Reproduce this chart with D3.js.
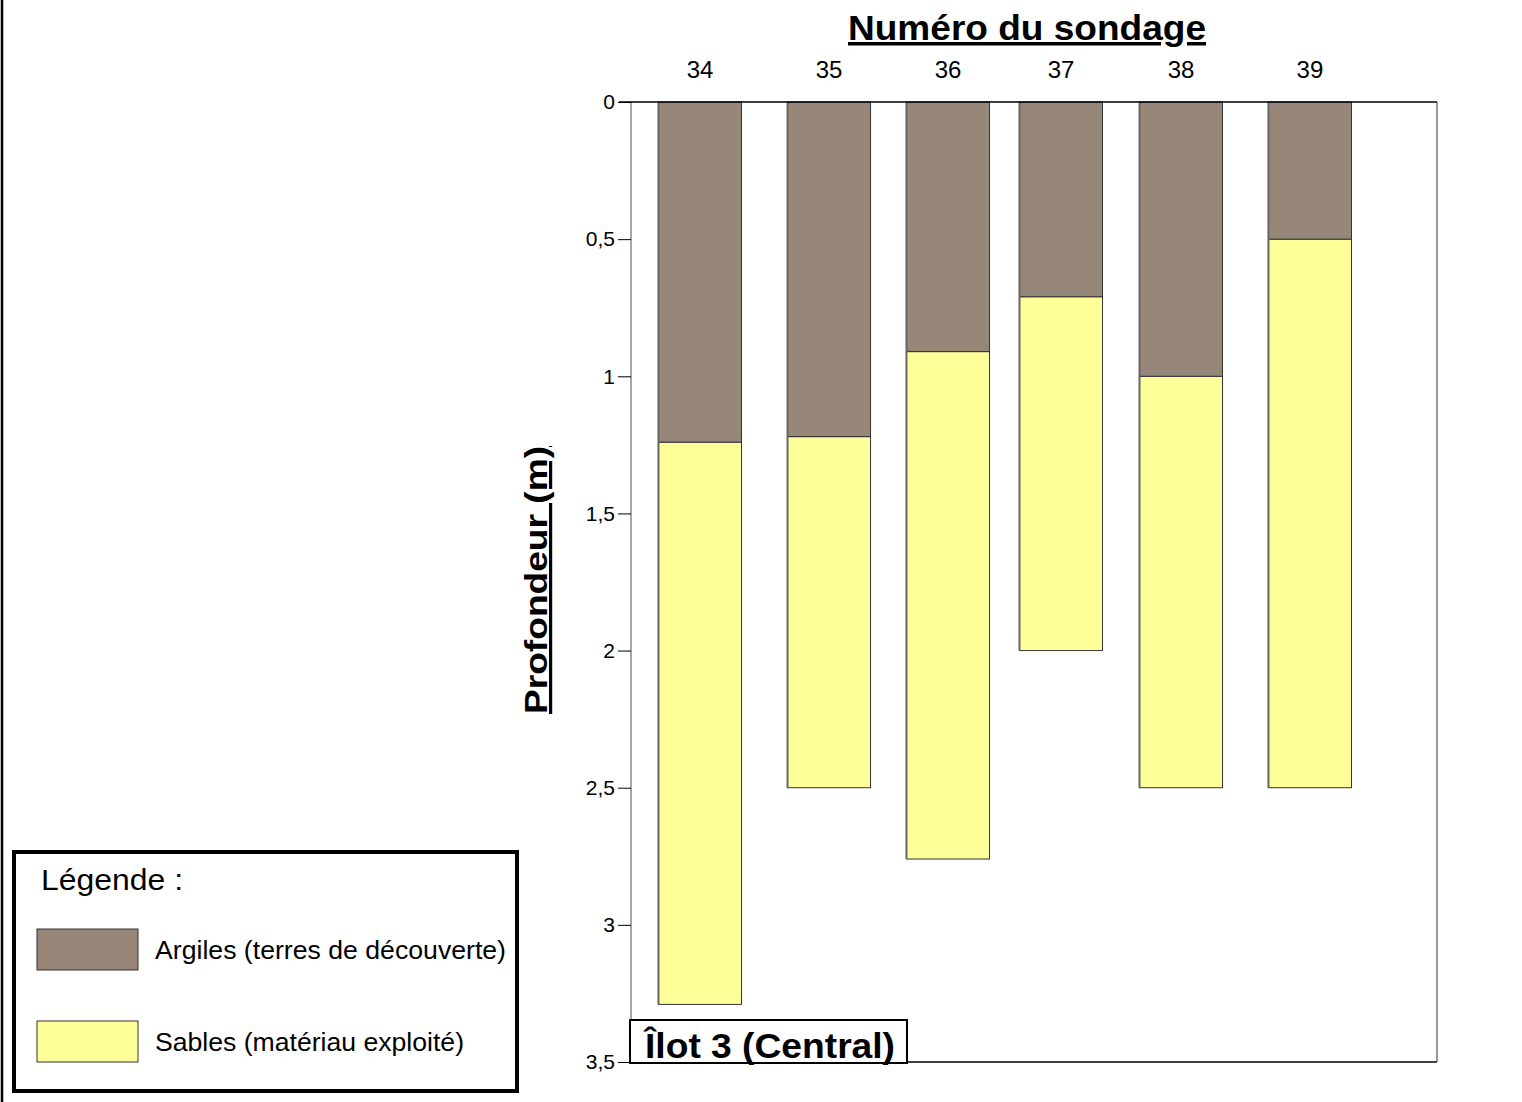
<!DOCTYPE html>
<html><head><meta charset="utf-8">
<script src="https://cdn.jsdelivr.net/npm/d3@7"></script>
<style>body{margin:0;background:#fff;}svg{display:block;font-family:"Liberation Sans",Arial,sans-serif;}</style>
</head><body>
<svg id="c" width="1522" height="1102"></svg>
<script>
const sondages = ["34","35","36","37","38","39"];
const positions = [8.56, 24.57, 39.33, 53.35, 68.24, 84.24]; // position along transect (arbitrary units, 0-100)
const argileBase = [1.24, 1.22, 0.91, 0.71, 1.0, 0.5];   // depth of clay bottom (m)
const sableBase = [3.29, 2.5, 2.76, 2.0, 2.5, 2.5];      // depth of sand bottom (m)
const yTicks = [0, 0.5, 1, 1.5, 2, 2.5, 3, 3.5];
const seriesNames = ["Argiles (terres de découverte)", "Sables (matériau exploité)"];
const colors = ["#968779", "#FFFF99"];

const svg = d3.select("#c");
const L = 631, R = 1437, T = 102, B = 1062;
const x = d3.scaleLinear().domain([0, 100]).range([L, R]);
const y = d3.scaleLinear().domain([0, 3.5]).range([T, B]);
const barW = 10.3;

// outer left border
svg.append("line").attr("x1", 2).attr("x2", 2).attr("y1", 0).attr("y2", 1102).attr("stroke", "#000").attr("stroke-width", 2.5);

// plot frame
svg.append("line").attr("x1", L).attr("x2", L).attr("y1", T).attr("y2", B).attr("stroke", "#888").attr("stroke-width", 1.5);
svg.append("line").attr("x1", R).attr("x2", R).attr("y1", T).attr("y2", B).attr("stroke", "#999").attr("stroke-width", 2);

// bars
const g = svg.append("g");
sondages.forEach((s, i) => {
  const x0 = x(positions[i] - barW / 2), w = x(positions[i] + barW / 2) - x0;
  g.append("rect").attr("x", x0).attr("y", y(argileBase[i])).attr("width", w)
    .attr("height", y(sableBase[i]) - y(argileBase[i])).attr("fill", colors[1]).attr("stroke", "#333").attr("stroke-width", 1);
  g.append("rect").attr("x", x0).attr("y", y(0)).attr("width", w)
    .attr("height", y(argileBase[i]) - y(0)).attr("fill", colors[0]).attr("stroke", "#333").attr("stroke-width", 1);
  g.append("line").attr("x1", x0).attr("x2", x0).attr("y1", y(0)).attr("y2", y(sableBase[i])).attr("stroke", "#666").attr("stroke-width", 2);
});

// top / bottom axis lines
svg.append("line").attr("x1", L - 12).attr("x2", R).attr("y1", T).attr("y2", T).attr("stroke", "#000").attr("stroke-width", 1.5);
svg.append("line").attr("x1", L).attr("x2", R).attr("y1", B).attr("y2", B).attr("stroke", "#000").attr("stroke-width", 1.5);

// y axis
const yAxis = d3.axisLeft(y).tickValues(yTicks).tickSize(13).tickPadding(3)
  .tickFormat(d => String(d).replace(".", ","));
const ya = svg.append("g").attr("transform", `translate(${L},0)`).call(yAxis);
ya.select(".domain").remove();
ya.selectAll("line").attr("stroke", "#000");
ya.selectAll("text").attr("font-size", 21).attr("fill", "#000").attr("font-family", "Liberation Sans, Arial, sans-serif");

// category labels
svg.append("g").selectAll("text").data(sondages).join("text")
  .attr("x", (d, i) => x(positions[i])).attr("y", 78).attr("text-anchor", "middle")
  .attr("font-size", 24).text(d => d);

// title
svg.append("text").attr("x", 1027).attr("y", 40).attr("text-anchor", "middle")
  .attr("font-size", 35).attr("font-weight", "bold").attr("text-decoration", "underline")
  .attr("textLength", 358).attr("lengthAdjust", "spacingAndGlyphs").text("Numéro du sondage");

// y label
svg.append("text").attr("transform", "translate(547,580) rotate(-90)").attr("text-anchor", "middle")
  .attr("font-size", 32).attr("font-weight", "bold").attr("text-decoration", "underline")
  .attr("textLength", 268).attr("lengthAdjust", "spacingAndGlyphs").text("Profondeur (m)");

// Îlot box
svg.append("rect").attr("x", 630).attr("y", 1020).attr("width", 277).attr("height", 43)
  .attr("fill", "#fff").attr("stroke", "#000").attr("stroke-width", 2);
svg.append("text").attr("x", 645).attr("y", 1058).attr("font-size", 35).attr("font-weight", "bold")
  .attr("textLength", 250).attr("lengthAdjust", "spacingAndGlyphs").text("Îlot 3 (Central)");

// legend
const lg = svg.append("g");
lg.append("rect").attr("x", 14).attr("y", 852).attr("width", 503).attr("height", 239)
  .attr("fill", "#fff").attr("stroke", "#000").attr("stroke-width", 4);
lg.append("text").attr("x", 41).attr("y", 890).attr("font-size", 30)
  .attr("textLength", 142).attr("lengthAdjust", "spacingAndGlyphs").text("Légende :");
const legY = [929, 1021];
const legLen = [351, 309];
seriesNames.forEach((n, i) => {
  lg.append("rect").attr("x", 37).attr("y", legY[i]).attr("width", 101).attr("height", 41)
    .attr("fill", colors[i]).attr("stroke", "#333").attr("stroke-width", 1);
  lg.append("text").attr("x", 155).attr("y", legY[i] + 30).attr("font-size", 26)
    .attr("textLength", legLen[i]).attr("lengthAdjust", "spacingAndGlyphs").text(n);
});
</script>
</body></html>
